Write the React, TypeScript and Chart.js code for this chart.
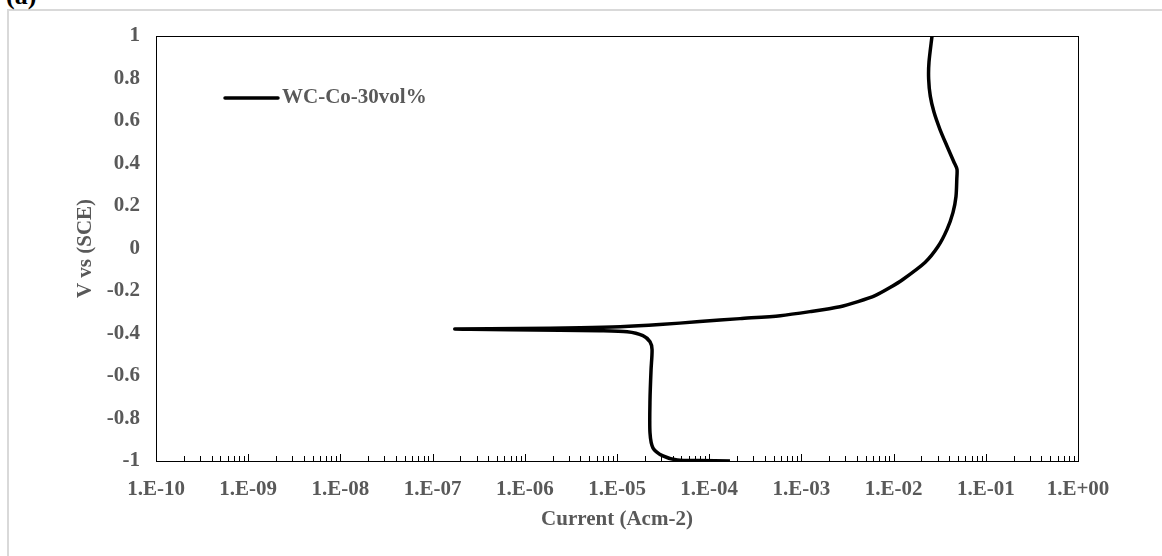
import { useEffect, useRef } from "react";
import { Chart, registerables } from "chart.js";

Chart.register(...registerables);

// ---- data ----
const seriesName = "WC-Co-30vol%";
const panelLabel = "(a)";
const xAxisTitle = "Current (Acm-2)";
const yAxisTitle = "V vs (SCE)";

// Potential sweep from -1 V to +1 V (V vs SCE)
const potentialV = [
  -1.0, -0.998, -0.995, -0.976, -0.939, -0.868, -0.712, -0.571, -0.476, -0.439,
  -0.41, -0.392, -0.387, -0.385, -0.382, -0.38, -0.379,
  -0.377, -0.373, -0.368, -0.358, -0.344, -0.33, -0.316, -0.297, -0.274, -0.25,
  -0.222, -0.184, -0.146, -0.066, 0.009, 0.09, 0.17, 0.245, 0.33, 0.373, 0.406, 0.481,
  0.561, 0.642, 0.717, 0.797, 0.877, 1.0,
];
// Current density (A cm-2)
const currentA = [
  1.68e-4, 7.9e-5, 4.5e-5, 3.15e-5, 2.46e-5, 2.28e-5, 2.28e-5, 2.34e-5, 2.4e-5, 2.28e-5,
  1.91e-5, 1.29e-5, 6.5e-6, 2.41e-6, 6.9e-7, 2.55e-7, 1.75e-7,
  8.9e-7, 4.0e-6, 1.08e-5, 2.9e-5, 7.9e-5, 2.16e-4, 5.9e-4, 1.24e-3, 2.62e-3, 4.11e-3,
  6.29e-3, 9.14e-3, 1.26e-2, 2.19e-2, 3.03e-2, 3.8e-2, 4.41e-2, 4.75e-2, 4.85e-2, 4.87e-2, 4.52e-2, 3.8e-2,
  3.18e-2, 2.74e-2, 2.5e-2, 2.4e-2, 2.42e-2, 2.61e-2,
];

const xTickExponents = [-10, -9, -8, -7, -6, -5, -4, -3, -2, -1, 0];
const yMin = -1;
const yMax = 1;
const yStep = 0.2;

const FONT = "'Liberation Serif', 'Times New Roman', serif";
const TEXT_GRAY = "#595959";

function fmtExp(v: number): string {
  const e = Math.round(Math.log10(v));
  const sign = e < 0 ? "-" : "+";
  const abs = Math.abs(e);
  return `1.E${sign}${abs < 10 ? "0" + abs : abs}`;
}

const framePlugin = {
  id: "frameTicksLegend",
  afterDatasetsDraw(chart: any) {
    const { ctx, chartArea } = chart;
    const { left, top, right, bottom } = chartArea;
    const xs = chart.scales.x;
    ctx.save();
    ctx.strokeStyle = "#000";
    ctx.lineWidth = 1;
    ctx.strokeRect(left + 0.5, top + 0.5, right - left, bottom - top);
    ctx.beginPath();
    for (let i = 0; i < xTickExponents.length; i++) {
      const e = xTickExponents[i];
      const base = Math.pow(10, e);
      const xp = Math.round(xs.getPixelForValue(base)) + 0.5;
      ctx.moveTo(xp, bottom);
      ctx.lineTo(xp, bottom - 7);
      if (i < xTickExponents.length - 1) {
        for (let m = 2; m <= 9; m++) {
          const xm = Math.round(xs.getPixelForValue(m * base)) + 0.5;
          ctx.moveTo(xm, bottom);
          ctx.lineTo(xm, bottom - 5);
        }
      }
    }
    ctx.stroke();

    // legend
    ctx.strokeStyle = "#000";
    ctx.lineWidth = 3.5;
    ctx.lineCap = "round";
    ctx.beginPath();
    ctx.moveTo(left + 69, top + 62);
    ctx.lineTo(left + 122, top + 62);
    ctx.stroke();
    ctx.fillStyle = TEXT_GRAY;
    ctx.font = `bold 21px ${FONT}`;
    ctx.textBaseline = "middle";
    ctx.textAlign = "left";
    ctx.fillText(seriesName, left + 126, top + 62);
    ctx.restore();
  },
};

export default function App() {
  const ref = useRef<HTMLCanvasElement | null>(null);

  useEffect(() => {
    if (!ref.current) return;
    const points = potentialV.map((v, i) => ({ x: currentA[i], y: v }));
    const chart = new Chart(ref.current, {
      type: "scatter",
      data: {
        datasets: [
          {
            label: seriesName,
            data: points,
            showLine: true,
            borderColor: "#000",
            backgroundColor: "#000",
            borderWidth: 3.5,
            pointRadius: 0,
            tension: 0.25,
          },
        ],
      },
      options: {
        animation: false,
        responsive: false,
        devicePixelRatio: 1,
        layout: { padding: { left: 0, top: 36, right: 84, bottom: 0 } },
        plugins: { legend: { display: false }, tooltip: { enabled: false } },
        scales: {
          x: {
            type: "logarithmic",
            min: 1e-10,
            max: 1,
            grid: { display: false, drawTicks: false },
            border: { display: false },
            afterFit: (s: any) => {
              s.height = 95;
            },
            afterBuildTicks: (s: any) => {
              s.ticks = xTickExponents.map((e) => ({ value: Math.pow(10, e) }));
            },
            ticks: {
              autoSkip: false,
              maxRotation: 0,
              padding: 16,
              color: TEXT_GRAY,
              font: { family: FONT, size: 21, weight: "bold" },
              callback: (v: any) => fmtExp(Number(v)),
            },
            title: {
              display: true,
              text: xAxisTitle,
              color: TEXT_GRAY,
              font: { family: FONT, size: 21, weight: "bold" },
              padding: { top: 0, bottom: 24 },
            },
          },
          y: {
            type: "linear",
            min: yMin,
            max: yMax,
            grid: { display: false, drawTicks: false },
            border: { display: false },
            afterFit: (s: any) => {
              s.width = 156;
            },
            ticks: {
              stepSize: yStep,
              padding: 16,
              color: TEXT_GRAY,
              font: { family: FONT, size: 21, weight: "bold" },
              callback: (v: any) => String(Number(Number(v).toFixed(1))),
            },
            title: {
              display: true,
              text: yAxisTitle,
              color: TEXT_GRAY,
              font: { family: FONT, size: 21, weight: "bold" },
              padding: { top: 73, bottom: 0 },
            },
          },
        },
      },
      plugins: [framePlugin],
    });
    return () => chart.destroy();
  }, []);

  return (
    <div style={{ position: "fixed", left: 0, top: 0, width: 1162, height: 556, overflow: "hidden", background: "#fff" }}>
      <div
        style={{
          position: "absolute",
          left: 7,
          top: 9,
          width: 1300,
          height: 700,
          border: "2px solid #d9d9d9",
        }}
      />
      <div
        style={{
          position: "absolute",
          left: 6,
          top: -17,
          fontFamily: FONT,
          fontWeight: "bold",
          fontSize: 26,
          lineHeight: "26px",
          color: "#000",
        }}
      >
        {panelLabel}
      </div>
      <canvas ref={ref} width={1162} height={556} style={{ position: "absolute", left: 0, top: 0 }} />
    </div>
  );
}
